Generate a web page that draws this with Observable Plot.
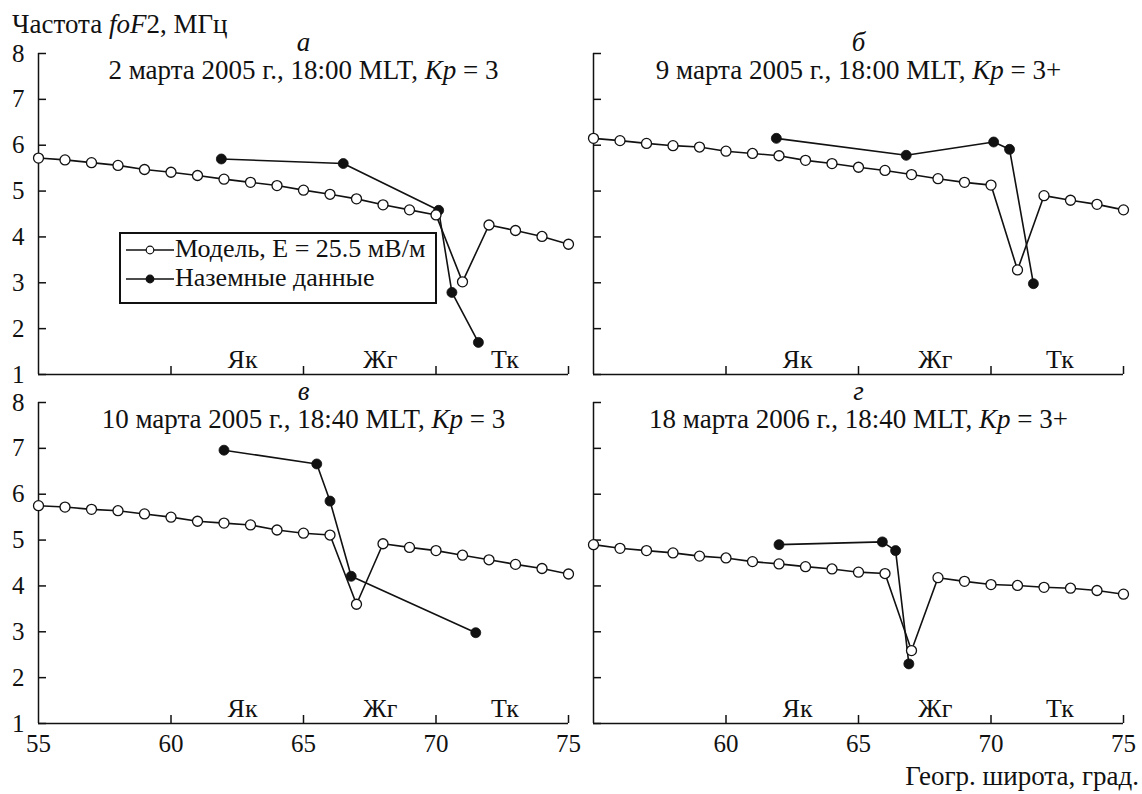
<!DOCTYPE html>
<html>
<head>
<meta charset="utf-8">
<script src="https://cdn.jsdelivr.net/npm/d3@7"></script>
<script src="https://cdn.jsdelivr.net/npm/@observablehq/plot@0.6"></script>
<style>
  html, body { margin: 0; padding: 0; background: #fff; }
  body { font-family: "Liberation Serif", "Times New Roman", serif; color: #111; }
  #wrap { position: relative; width: 1142px; height: 794px; overflow: hidden; }
  #chart { position: absolute; left: 0; top: 0; }
  .ylab { position: absolute; left: 12px; top: 11px; font-size: 27px; line-height: 1; white-space: nowrap; }
  .xlab { position: absolute; right: 3px; top: 763px; font-size: 27px; line-height: 1; white-space: nowrap; }
  #legend { position: absolute; left: 119px; top: 232px; width: 314px; height: 68px; border: 2px solid #111; background: #fff; }
  #legend .row { position: absolute; left: 0; height: 28px; width: 100%; }
  #legend svg { position: absolute; left: 3px; top: 5px; }
  #legend span { position: absolute; left: 54px; top: 1px; font-size: 26px; line-height: 1; white-space: nowrap; }
</style>
</head>
<body>
<div id="wrap">
  <div id="chart"></div>
  <div class="ylab">Частота <i>foF</i>2, МГц</div>
  <div class="xlab">Геогр. широта, град.</div>
  <div id="legend"></div>
</div>
<script>
// ---- data ----
const modelLat = [55,56,57,58,59,60,61,62,63,64,65,66,67,68,69,70,71,72,73,74,75];
const modelA = [5.72,5.68,5.62,5.56,5.47,5.41,5.34,5.26,5.19,5.12,5.02,4.93,4.83,4.70,4.59,4.48,3.02,4.26,4.14,4.01,3.84];
const modelB = [6.15,6.10,6.04,5.99,5.96,5.87,5.82,5.77,5.67,5.60,5.52,5.45,5.36,5.27,5.19,5.13,3.28,4.90,4.80,4.71,4.59];
const modelC = [5.75,5.72,5.67,5.64,5.57,5.50,5.41,5.37,5.33,5.22,5.15,5.11,3.60,4.92,4.84,4.77,4.67,4.57,4.47,4.38,4.26];
const modelD = [4.90,4.82,4.77,4.72,4.65,4.61,4.53,4.48,4.42,4.37,4.30,4.27,2.59,4.18,4.10,4.03,4.01,3.97,3.95,3.90,3.82];

const groundLatA = [61.9,66.5,70.1,70.6,71.6];
const groundA    = [5.70,5.60,4.58,2.79,1.70];
const groundLatB = [61.9,66.8,70.1,70.7,71.6];
const groundB    = [6.15,5.78,6.07,5.91,2.98];
const groundLatC = [62.0,65.5,66.0,66.8,71.5];
const groundC    = [6.96,6.66,5.85,4.21,2.98];
const groundLatD = [62.0,65.9,66.4,66.9];
const groundD    = [4.90,4.96,4.77,2.30];

const panelLetters = ["а","б","в","г"];
const panelTitles = [
  "2 марта 2005 г., 18:00 MLT, Kp = 3",
  "9 марта 2005 г., 18:00 MLT, Kp = 3+",
  "10 марта 2005 г., 18:40 MLT, Kp = 3",
  "18 марта 2006 г., 18:40 MLT, Kp = 3+"
];
const panelCols = ["L","R","L","R"];
const panelRows = ["T","T","B","B"];

const yTicks = [1,2,3,4,5,6,7,8];
const xTicks = [55,60,65,70,75];
const stationNames = ["Як","Жг","Тк"];
const stationLabelLat = [62.7,67.9,72.6];

const legendLabels = ["Модель, E = 25.5 мВ/м","Наземные данные"];

// ---- tables built from the arrays ----
const modelSeries = [modelA, modelB, modelC, modelD];
const groundLats = [groundLatA, groundLatB, groundLatC, groundLatD];
const groundSeries = [groundA, groundB, groundC, groundD];

const panels = panelLetters.map((letter, i) => ({letter, title: panelTitles[i], col: panelCols[i], row: panelRows[i]}));
const model = panels.flatMap((p, i) => modelLat.map((lat, j) => ({col: p.col, row: p.row, lat, f: modelSeries[i][j]})));
const ground = panels.flatMap((p, i) => groundLats[i].map((lat, j) => ({col: p.col, row: p.row, lat, f: groundSeries[i][j]})));
const stations = stationNames.map((name, i) => ({name, lat: stationLabelLat[i]}));
const xLabels = ["L","R"].flatMap(col => xTicks.filter(t => !(col === "R" && t === 55)).map(t => ({col, row: "B", t})));
const innerTicksX = xTicks.slice(1);

const W = 1142, H = 794;
const mL = 38, mR = 18, mT = 53, mB = 70;
const gapX = 25, gapY = 28;
const stepX = (W - mL - mR + gapX) / 2, stepY = (H - mT - mB + gapY) / 2;
const bandW = stepX - gapX, bandH = stepY - gapY;
const tick = 8.5;
const ink = "#111";

const chart = Plot.plot({
  width: W, height: H,
  marginLeft: mL, marginRight: mR, marginTop: mT, marginBottom: mB,
  style: {fontFamily: "'Liberation Serif', 'Times New Roman', serif", fontSize: "25px", color: ink, background: "#fff", overflow: "visible"},
  x: {domain: [55, 75], axis: null},
  y: {domain: [1, 8], axis: null},
  fx: {domain: ["L","R"], axis: null, paddingInner: gapX / stepX, paddingOuter: 0},
  fy: {domain: ["T","B"], axis: null, paddingInner: gapY / stepY, paddingOuter: 0},
  marks: [
    Plot.ruleX([55], {stroke: ink, strokeWidth: 1.5}),
    Plot.ruleY([1], {stroke: ink, strokeWidth: 1.5}),
    Plot.tickY(yTicks, {y: d => d, stroke: ink, strokeWidth: 1.5, insetRight: bandW - tick}),
    Plot.tickX(innerTicksX, {x: d => d, stroke: ink, strokeWidth: 1.5, insetTop: bandH - tick}),
    Plot.axisY({ticks: yTicks, tickFormat: d => String(d), tickSize: 0, tickPadding: 14, fontSize: 25, label: null, fill: ink}),
    Plot.text(xLabels, {x: "t", fx: "col", fy: "row", text: d => String(d.t), frameAnchor: "bottom", lineAnchor: "top", dy: 11, fontSize: 25, fill: ink}),
    Plot.text(stations, {x: "lat", text: "name", frameAnchor: "bottom", lineAnchor: "middle", dy: -15, fontSize: 26, fill: ink}),
    Plot.text(panels, {fx: "col", fy: "row", text: "letter", frameAnchor: "top", lineAnchor: "middle", dy: -11, fontSize: 27, fontStyle: "italic", fill: ink}),
    Plot.text(panels, {fx: "col", fy: "row", text: "title", frameAnchor: "top", lineAnchor: "middle", dy: 17, fontSize: 27, fill: ink}),
    Plot.line(model, {x: "lat", y: "f", fx: "col", fy: "row", stroke: ink, strokeWidth: 1.6}),
    Plot.line(ground, {x: "lat", y: "f", fx: "col", fy: "row", stroke: ink, strokeWidth: 1.6}),
    Plot.dot(ground, {x: "lat", y: "f", fx: "col", fy: "row", r: 5, fill: ink, stroke: ink, strokeWidth: 0.8}),
    Plot.dot(model, {x: "lat", y: "f", fx: "col", fy: "row", r: 5, fill: "#fff", stroke: ink, strokeWidth: 1.3})
  ]
});
document.getElementById("chart").append(chart);

// italic "Kp" inside titles
chart.querySelectorAll("text, tspan").forEach(el => {
  if (el.children.length === 0 && el.textContent.includes("Kp")) {
    const s = el.textContent, i = s.indexOf("Kp");
    el.textContent = "";
    el.append(document.createTextNode(s.slice(0, i)));
    const t = document.createElementNS("http://www.w3.org/2000/svg", "tspan");
    t.setAttribute("font-style", "italic");
    t.textContent = "Kp";
    el.append(t);
    el.append(document.createTextNode(s.slice(i + 2)));
  }
});

// legend
const legend = document.getElementById("legend");
legendLabels.forEach((label, i) => {
  const row = document.createElement("div");
  row.className = "row";
  row.style.top = (i * 29 + 1) + "px";
  const filled = i === 1;
  row.innerHTML = `<svg width="52" height="20"><line x1="2" y1="10" x2="50" y2="10" stroke="${ink}" stroke-width="1.6"/><circle cx="26" cy="10" r="3.8" fill="${filled ? ink : "#fff"}" stroke="${ink}" stroke-width="1.2"/></svg><span>${label}</span>`;
  legend.append(row);
});
</script>
</body>
</html>
